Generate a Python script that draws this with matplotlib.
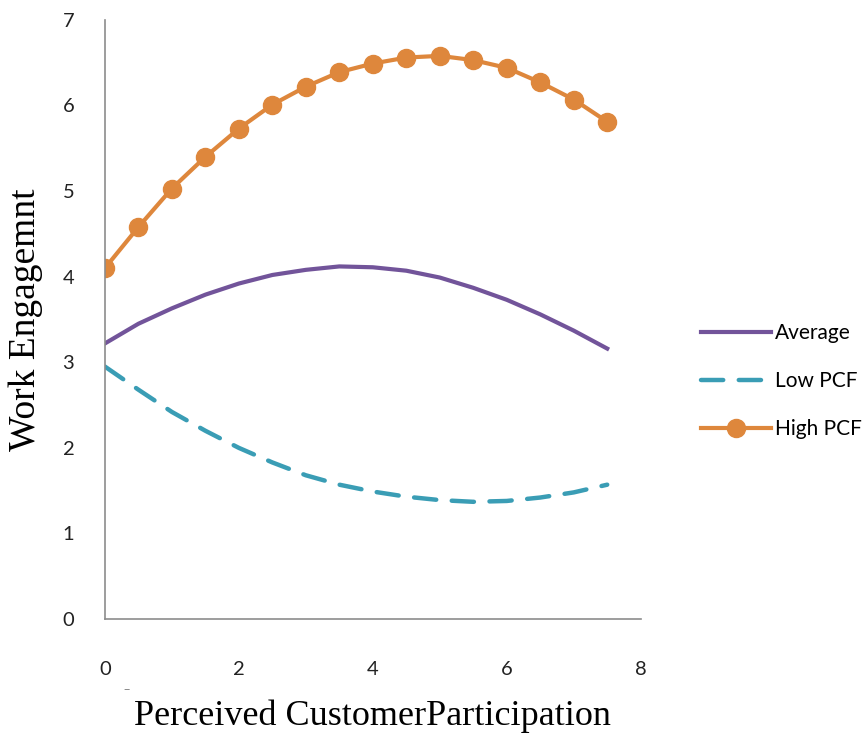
import matplotlib
matplotlib.use("Agg")
import matplotlib.pyplot as plt

# perceived customer participation (x) and work engagement for each group
participation = [0, 0.5, 1, 1.5, 2, 2.5, 3, 3.5, 4, 4.5, 5, 5.5, 6, 6.5, 7, 7.5]
average = [3.22, 3.45, 3.63, 3.79, 3.92, 4.02, 4.08, 4.12, 4.11, 4.07, 3.99, 3.87, 3.73, 3.56, 3.37, 3.16]
low_pcf = [2.95, 2.68, 2.42, 2.20, 2.00, 1.83, 1.68, 1.57, 1.49, 1.43, 1.39, 1.37, 1.38, 1.42, 1.48, 1.57]
high_pcf = [4.10, 4.58, 5.03, 5.40, 5.73, 6.01, 6.22, 6.39, 6.49, 6.56, 6.58, 6.53, 6.44, 6.27, 6.07, 5.81]

x_ticks = [0, 2, 4, 6, 8]
y_ticks = [0, 1, 2, 3, 4, 5, 6, 7]

purple = "#72549a"
teal = "#3a9db5"
orange = "#de873c"

fig = plt.figure(figsize=(8.67, 7.37), dpi=100)
ax = fig.add_axes([0.121, 0.160, 0.618, 0.813])

ax.plot(participation, average, color=purple, lw=3, label="Average")
ax.plot(participation, low_pcf, color=teal, lw=3.2, dashes=(5, 3.5),
        dash_capstyle="round", label="Low PCF")
ax.plot(participation, high_pcf, color=orange, lw=3, marker="o", ms=13,
        label="High PCF")

ax.set_xlim(0, 8)
ax.set_ylim(0, 7)
ax.set_xticks(x_ticks)
ax.set_yticks(y_ticks)
for s in ["top", "right"]:
    ax.spines[s].set_visible(False)
for s in ["left", "bottom"]:
    ax.spines[s].set_color("#8c8c8c")
    ax.spines[s].set_linewidth(1.2)
ax.tick_params(length=0, labelsize=14.5, colors="#222222")
ax.tick_params(axis="x", pad=30)
ax.tick_params(axis="y", pad=22)
for lab in ax.get_xticklabels() + ax.get_yticklabels():
    lab.set_family("Lato")

ax.set_ylabel("Work Engagemnt", family="Liberation Serif", fontsize=27, labelpad=14)
ax.set_xlabel("Perceived CustomerParticipation", family="Liberation Serif",
              fontsize=26, labelpad=16)
fig.text(0.142, 0.060, "\u2013", fontsize=9, color="#888888")

fig.legend(loc="upper left", bbox_to_anchor=(0.797, 0.576), frameon=False,
           handlelength=3.35, handletextpad=0.2, labelspacing=1.35,
           borderpad=0, prop={"family": "Lato", "size": 15})

fig.savefig("out.png", dpi=100)
